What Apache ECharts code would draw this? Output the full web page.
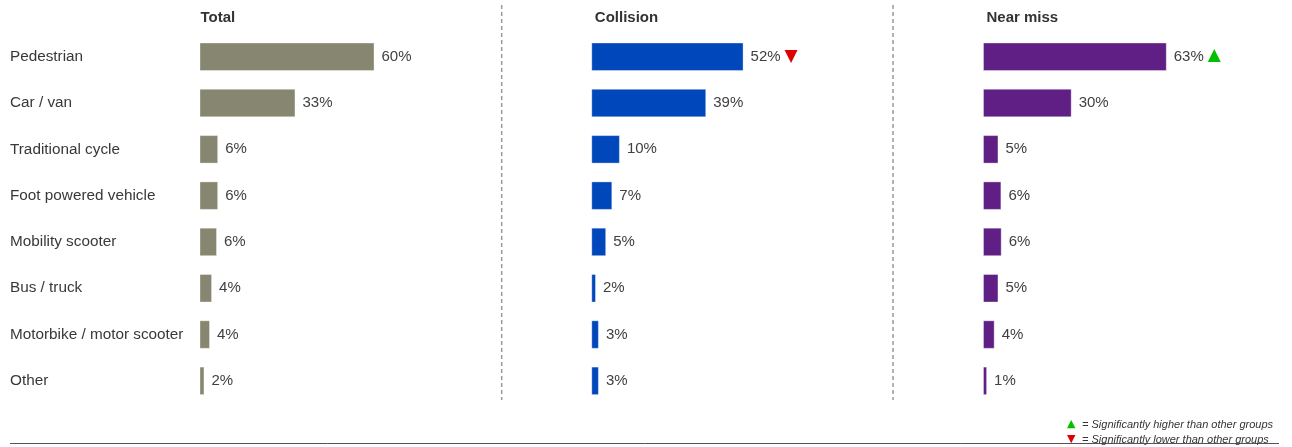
<!DOCTYPE html>
<html>
<head>
<meta charset="utf-8">
<script src="https://cdn.jsdelivr.net/npm/echarts@6/dist/echarts.min.js"></script>
<style>
  html, body { margin: 0; padding: 0; background: #fff; }
  #chart { width: 1292px; height: 447px; }
</style>
</head>
<body>
<div id="chart"></div>
<script>
// categories (top to bottom)
var categories = ['Pedestrian', 'Car / van', 'Traditional cycle', 'Foot powered vehicle',
  'Mobility scooter', 'Bus / truck', 'Motorbike / motor scooter', 'Other'];

// panel titles
var panelTitles = ['Total', 'Collision', 'Near miss'];

// values in % (labels show rounded)
var totalValues = [60, 32.9, 6.4, 6.4, 6.0, 4.3, 3.6, 1.7];
var collisionValues = [52.2, 39.4, 9.8, 7.2, 5.1, 1.6, 2.6, 2.6];
var nearMissValues = [63, 30.4, 5.3, 6.3, 6.4, 5.3, 4.0, 1.4];

// significance flags: 'up' higher, 'down' lower
var collisionSig = ['down', '', '', '', '', '', '', ''];
var nearMissSig = ['up', '', '', '', '', '', '', ''];
var totalSig = ['', '', '', '', '', '', '', ''];

var legendLines = ['= Significantly higher than other groups', '= Significantly lower than other groups'];

var colors = ['#878670', '#0047BB', '#5F1F84'];
var gridLefts = [199.5, 591.3, 983];
var gridWidth = 291.7;
var gridTop = 33.6;
var gridHeight = 370.4;
var font = 'Liberation Sans, Arial, sans-serif';

var chart = echarts.init(document.getElementById('chart'));

var allValues = [totalValues, collisionValues, nearMissValues];
var allSig = [totalSig, collisionSig, nearMissSig];

var grids = [], xAxes = [], yAxes = [], series = [], titles = [];
for (var i = 0; i < 3; i++) {
  grids.push({ left: gridLefts[i], top: gridTop, width: gridWidth, height: gridHeight });
  xAxes.push({ type: 'value', gridIndex: i, min: 0, max: 100, show: false });
  yAxes.push({
    type: 'category',
    gridIndex: i,
    data: categories,
    inverse: true,
    axisLine: { show: false },
    axisTick: { show: false },
    splitLine: { show: false },
    axisLabel: {
      show: i === 0,
      align: 'left',
      margin: gridLefts[0] - 10,
      fontSize: 15.3,
      fontFamily: font,
      color: '#383838'
    }
  });
  (function (sig) {
    series.push({
      type: 'bar',
      xAxisIndex: i,
      yAxisIndex: i,
      data: allValues[i],
      barWidth: 28.5,
      itemStyle: { color: colors[i], borderColor: 'rgba(255,255,255,0.35)', borderWidth: 1 },
      label: {
        show: true,
        position: 'right',
        distance: 7,
        formatter: function (p) {
          var s = '{v|' + Math.round(p.value) + '%}';
          if (sig[p.dataIndex] === 'up') s += '{up|▲}';
          if (sig[p.dataIndex] === 'down') s += '{down|▼}';
          return s;
        },
        rich: {
          v: { fontFamily: font, fontSize: 15, color: '#404040' },
          up: { fontFamily: 'DejaVu Sans', fontSize: 17, color: '#00C000', padding: [0, 0, 2, 4] },
          down: { fontFamily: 'DejaVu Sans', fontSize: 17, color: '#E00000', padding: [0, 0, 0, 4] }
        }
      },
      silent: true
    });
  })(allSig[i]);
  titles.push({
    text: panelTitles[i],
    left: gridLefts[i] + (i === 0 ? 1 : 3.5),
    top: 10,
    padding: 0,
    textStyle: { fontFamily: font, fontSize: 15, fontWeight: 'bold', color: '#333' }
  });
}

var graphics = [];
[501.7, 893].forEach(function (x) {
  graphics.push({
    type: 'line',
    shape: { x1: x, y1: 5, x2: x, y2: 400 },
    style: { stroke: '#9a9a9a', lineWidth: 1.5, lineDash: [4, 3] },
    silent: true
  });
});
graphics.push({
  type: 'line',
  shape: { x1: 10, y1: 443.5, x2: 1279, y2: 443.5 },
  style: { stroke: '#555', lineWidth: 1 },
  silent: true
});
var marks = ['▲', '▼'];
var markColors = ['#00C000', '#E00000'];
legendLines.forEach(function (t, k) {
  graphics.push({
    type: 'text',
    left: 1067,
    top: 419 + k * 15,
    style: { text: marks[k], fill: markColors[k], font: '11px DejaVu Sans' },
    silent: true
  });
  graphics.push({
    type: 'text',
    left: 1082,
    top: 419 + k * 15,
    style: { text: t, fill: '#333', font: 'italic 11px ' + font },
    silent: true
  });
});

chart.setOption({
  animation: false,
  title: titles,
  grid: grids,
  xAxis: xAxes,
  yAxis: yAxes,
  series: series,
  graphic: graphics
});
</script>
</body>
</html>
